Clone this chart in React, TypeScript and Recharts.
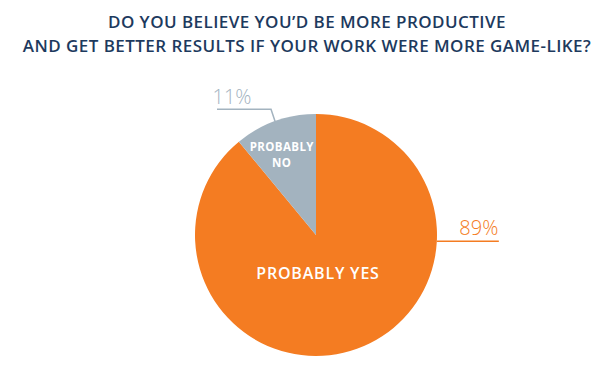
import { PieChart, Pie, Cell } from 'recharts';

const answers = ['PROBABLY YES', 'PROBABLY NO'];
const shares = [89, 11];
const shareLabels = ['89%', '11%'];
const COLORS = ['#F47C22', '#A3B3BF'];

const data = answers.map((name, i) => ({ name, value: shares[i], label: shareLabels[i] }));

const RAD = Math.PI / 180;
const FONT = '"Open Sans", Lato, sans-serif';

const renderOuter = (props: any) => {
  const { cx, cy, outerRadius, midAngle, index } = props;
  const color = COLORS[index];
  if (index === 0) {
    // big slice: leader line runs out of the right edge
    const a = -3 * RAD;
    const x0 = cx + outerRadius * Math.cos(a);
    const y0 = cy - outerRadius * Math.sin(a);
    return (
      <g>
        <line x1={x0} y1={y0} x2={x0 + 62} y2={y0} stroke={color} strokeWidth={1.5} />
        <text x={x0 + 42} y={y0 - 6} fill={color} fontSize={20} fontFamily={FONT} fontWeight={300} textAnchor="middle">
          {data[index].label}
        </text>
      </g>
    );
  }
  const a = midAngle * RAD;
  const x0 = cx + outerRadius * Math.cos(a);
  const y0 = cy - outerRadius * Math.sin(a);
  const x1 = x0 - 4;
  const y1 = y0 - 12;
  return (
    <g>
      <polyline points={`${x0},${y0} ${x1},${y1} ${x1 - 54},${y1}`} fill="none" stroke={color} strokeWidth={1.5} />
      <text x={x1 - 39} y={y1 - 5} fill={color} fontSize={20} fontFamily={FONT} fontWeight={300} textAnchor="middle">
        {data[index].label}
      </text>
    </g>
  );
};

const InnerLabels = (props: any) => {
  const { cx, cy, outerRadius, midAngle, index } = props;
  if (index === 0) {
    return (
      <text x={cx + 2} y={cy + 38} fill="#fff" fontSize={16} fontWeight={600} fontFamily={FONT} letterSpacing={0.8} textAnchor="middle" dominantBaseline="central">
        {answers[index]}
      </text>
    );
  }
  const a = (midAngle + 3) * RAD;
  const r = outerRadius * 0.73;
  const x = cx + r * Math.cos(a);
  const y = cy - r * Math.sin(a);
  const [w1, w2] = answers[index].split(' ');
  return (
    <g>
      <text x={x} y={y - 3} fill="#fff" fontSize={11.5} fontWeight={700} fontFamily={FONT} letterSpacing={0.4} textAnchor="middle">
        {w1}
      </text>
      <text x={x} y={y + 13} fill="#fff" fontSize={11.5} fontWeight={700} fontFamily={FONT} letterSpacing={0.4} textAnchor="middle">
        {w2}
      </text>
    </g>
  );
};

export default function App() {
  return (
    <div style={{ position: 'absolute', left: 0, top: 0, width: 614, height: 366, background: '#fff' }}>
      <div
        style={{
          position: 'absolute',
          left: 0,
          top: 10,
          width: 614,
          textAlign: 'center',
          color: '#1D3A5E',
          fontFamily: FONT,
          fontWeight: 600,
          fontSize: 17,
          lineHeight: '24px',
          letterSpacing: 0.45,
        }}
      >
        DO YOU BELIEVE YOU’D BE MORE PRODUCTIVE
        <br />
        AND GET BETTER RESULTS IF YOUR WORK WERE MORE GAME-LIKE?
      </div>
      <PieChart width={614} height={366} margin={{ top: 0, right: 0, bottom: 0, left: 0 }} style={{ position: 'absolute', left: 0, top: 0 }}>
        <Pie
          data={data}
          dataKey="value"
          cx={316}
          cy={235}
          outerRadius={121}
          startAngle={90}
          endAngle={-270}
          stroke="none"
          isAnimationActive={false}
          labelLine={false}
          label={renderOuter}
        >
          {data.map((d, i) => (
            <Cell key={d.name} fill={COLORS[i]} />
          ))}
        </Pie>
        <Pie
          data={data}
          dataKey="value"
          cx={316}
          cy={235}
          outerRadius={121}
          startAngle={90}
          endAngle={-270}
          fill="none"
          stroke="none"
          isAnimationActive={false}
          labelLine={false}
          label={InnerLabels}
        >
          {data.map((d) => (
            <Cell key={d.name} fill="transparent" />
          ))}
        </Pie>
      </PieChart>
    </div>
  );
}
